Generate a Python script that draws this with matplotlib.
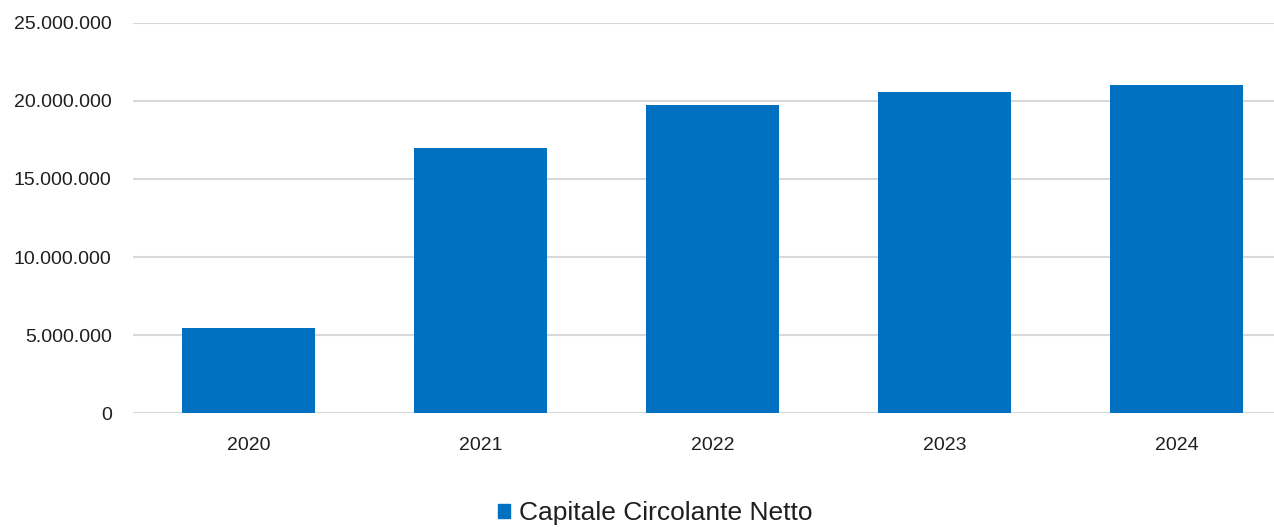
import matplotlib
matplotlib.use("Agg")
import matplotlib.pyplot as plt
import matplotlib.ticker as mticker
import matplotlib.patches as mpatches

# data
years = ["2020", "2021", "2022", "2023", "2024"]
ccn = [5470000, 17000000, 19710000, 20540000, 21010000]
y_ticks = [0, 5000000, 10000000, 15000000, 20000000, 25000000]

BLUE = "#0070C0"
GRID = "#d9d9d9"
TXT = "#1f1f1f"

plt.rcParams["font.family"] = ["Liberation Sans", "DejaVu Sans"]

W, H = 1274, 527
fig = plt.figure(figsize=(W / 100, H / 100), dpi=100)
# plot area runs past the right edge (reference is cropped there)
left, right = 132.5, 1292.5
bottom, top = 413.3, 22.7
ax = fig.add_axes([left / W, (H - bottom) / H, (right - left) / W, (bottom - top) / H])

xs = list(range(len(years)))
ax.bar(xs, ccn, width=0.573, color=BLUE, zorder=3)

ax.set_xlim(-0.5, len(years) - 0.5)
ax.set_ylim(0, 25000000)
ax.set_yticks(y_ticks)
ax.yaxis.set_major_formatter(mticker.FuncFormatter(lambda v, p: f"{int(v):,}".replace(",", ".")))
ax.set_xticks(xs)
ax.set_xticklabels(years)

ax.grid(axis="y", color=GRID, linewidth=1.5, zorder=0)
ax.set_axisbelow(True)
for s in ax.spines.values():
    s.set_visible(False)
ax.tick_params(axis="both", length=0, labelsize=14, colors=TXT)
ax.tick_params(axis="y", pad=15)
ax.tick_params(axis="x", pad=17)

handle = mpatches.Patch(color=BLUE)
fig.legend([handle], ["Capitale Circolante Netto"], loc="center",
           bbox_to_anchor=(655 / W, (H - 513) / H), frameon=False,
           fontsize=19, handlelength=0.45, handleheight=0.45, handletextpad=0.35,
           labelcolor=TXT)

fig.savefig("out.png", dpi=100)
